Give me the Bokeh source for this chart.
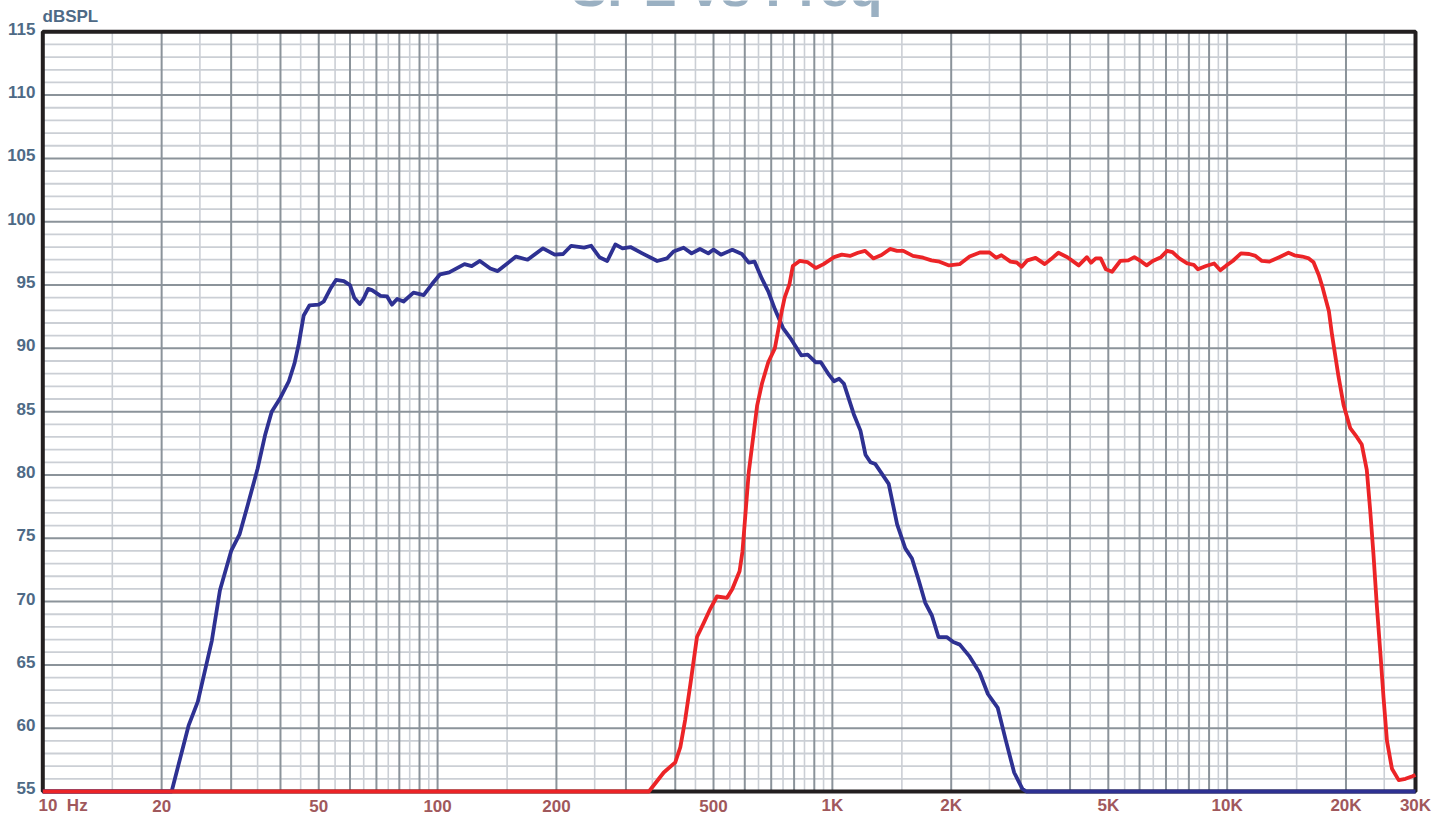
from bokeh.plotting import figure
from bokeh.models import ColumnDataSource, LabelSet, Label, Range1d
from bokeh.core.properties import value
from bokeh.embed import file_html
from bokeh.resources import INLINE

# ---- data ----
blue_freq = [10, 21.2, 23.4, 24.7, 26.8, 28.1, 30, 31.5, 33.1, 35, 36.6, 38, 40, 42, 43.4,
             44.5, 45.8, 47.4, 50, 51.5, 53.5, 55.3, 57.9, 60, 61.5, 63.5, 64.9, 66.7, 68.2,
             71.7, 74.5, 76.6, 79, 82, 86.9, 92.2, 96.9, 101.5, 107, 117, 122, 128, 136, 142,
             158, 169, 185, 198, 208, 218, 235, 245, 257, 269, 282, 294, 308, 330, 360, 381,
             396, 420, 440, 462, 485, 500, 522, 558, 590, 614, 635, 663, 688, 715, 750, 787,
             834, 866, 908, 935, 981, 1010, 1040, 1070, 1133, 1178, 1213, 1249, 1285, 1389,
             1459, 1530, 1591, 1654, 1719, 1787, 1857, 1948, 2024, 2103, 2228, 2360, 2477,
             2624, 2752, 2887, 3030, 3100, 30000]
blue_db = [55, 55.0, 60.2, 62.1, 66.9, 70.9, 74.0, 75.3, 77.7, 80.5, 83.2, 85.0, 86.1, 87.4, 88.8,
           90.35, 92.6, 93.4, 93.45, 93.7, 94.7, 95.4, 95.3, 95.0, 94.0, 93.5, 93.9, 94.7, 94.6,
           94.15, 94.1, 93.45, 93.9, 93.7, 94.4, 94.2, 95.1, 95.85, 96.0, 96.65, 96.5, 96.9, 96.3, 96.1,
           97.25, 97.0, 97.9, 97.4, 97.45, 98.1, 97.95, 98.1, 97.2, 96.9, 98.2, 97.9, 98.0, 97.5, 96.9, 97.1,
           97.65, 97.95, 97.5, 97.85, 97.5, 97.8, 97.4, 97.78, 97.45, 96.77, 96.85, 95.5, 94.5, 93.1, 91.6, 90.7,
           89.45, 89.5, 88.9, 88.9, 87.9, 87.4, 87.6, 87.2, 84.8, 83.5, 81.6, 81.0, 80.86, 79.3,
           76.1, 74.2, 73.4, 71.7, 69.9, 68.9, 67.2, 67.2, 66.8, 66.6, 65.65, 64.4, 62.7,
           61.6, 59.0, 56.5, 55.2, 55, 55]

red_freq = [10, 343, 374, 400, 412, 424, 437, 454, 472, 491, 510, 541, 558, 582, 592, 614, 645,
            663, 688, 715, 743, 757, 779, 794, 826, 866, 908, 950, 1010, 1057, 1108, 1161, 1210,
            1270, 1332, 1400, 1458, 1513, 1600, 1698, 1782, 1868, 1975, 2100, 2227, 2364, 2500,
            2600, 2680, 2826, 2930, 3017, 3119, 3271, 3451, 3580, 3737, 3938, 4208, 4413, 4519,
            4648, 4782, 4930, 5110, 5361, 5619, 5821, 6034, 6254, 6480, 6797, 7046, 7270, 7565,
            7940, 8230, 8430, 8840, 9270, 9610, 9960, 10330, 10840, 11370, 11800, 12250, 12800,
            13550, 14300, 14800, 15500, 16100, 16550, 17060, 17450, 17740, 18100, 18430, 19150,
            19730, 20500, 21300, 21930, 22580, 23020, 23480, 23940, 24420, 24900, 25400, 26150,
            27200, 28300, 29460, 30000]
red_db = [55, 55, 56.5, 57.3, 58.5, 60.7, 63.5, 67.2, 68.3, 69.45, 70.4, 70.3, 71.0, 72.4, 73.96, 80.2, 85.5,
          87.2, 88.9, 90.0, 92.8, 94.0, 95.1, 96.5, 96.9, 96.8, 96.35, 96.65, 97.2, 97.4, 97.3, 97.55, 97.7,
          97.1, 97.37, 97.85, 97.7, 97.7, 97.3, 97.16, 96.95, 96.84, 96.55, 96.65, 97.25, 97.57, 97.58,
          97.15, 97.35, 96.85, 96.78, 96.45, 96.95, 97.15, 96.65, 97.05, 97.55, 97.2, 96.55, 97.2, 96.76,
          97.1, 97.1, 96.24, 96.05, 96.9, 96.95, 97.2, 96.9, 96.55, 96.9, 97.2, 97.7, 97.6, 97.1,
          96.7, 96.6, 96.24, 96.5, 96.7, 96.16, 96.55, 96.9, 97.5, 97.45, 97.3, 96.9, 96.85,
          97.2, 97.55, 97.35, 97.25, 97.1, 96.8, 95.8, 94.8, 93.96, 92.95, 91.1, 87.76,
          85.5, 83.7, 83.0, 82.4, 80.4, 77.3, 73.7, 69.7, 66.1, 62.4, 59.0, 56.8,
          55.9, 56.0, 56.2, 56.3]

x_tick_values = [10, 20, 50, 100, 200, 500, 1000, 2000, 5000, 10000, 20000, 30000]
x_tick_labels = ["10\u00a0\u00a0Hz", "20", "50", "100", "200", "500", "1K", "2K", "5K", "10K", "20K", "30K"]
y_tick_values = [55, 60, 65, 70, 75, 80, 85, 90, 95, 100, 105, 110, 115]
y_tick_labels = [str(v) for v in y_tick_values]

x_min, x_max = 10, 30000
y_min, y_max = 55, 115

grid_major_x = [m * 10 ** k for k in range(1, 4) for m in range(1, 10)] + [10000, 20000]
grid_minor_x = [(m + 0.5) * 10 ** k for k in range(1, 4) for m in range(1, 10)] + [15000, 25000]
grid_major_x = [v for v in grid_major_x if x_min < v < x_max]
grid_major_y = list(range(60, 115, 5))
grid_minor_y = [v for v in range(56, 115) if v % 5]

# ---- layout (the plotting box sits inside a full-canvas frame) ----
W, H = 1452, 820
PX_DEC = 394.8      # pixels per decade
PX_DB = 12.66       # pixels per dB
BOX_L, BOX_R, BOX_T, BOX_B = 42.3, 1415.0, 31.3, 791.0
xr = Range1d(x_min * 10 ** (-BOX_L / PX_DEC), x_max * 10 ** ((W - BOX_R) / PX_DEC))
yr = Range1d(y_min - (H - BOX_B) / PX_DB, y_max + BOX_T / PX_DB)

p = figure(width=W, height=H, x_axis_type="log", x_range=xr, y_range=yr,
           x_axis_location=None, y_axis_location=None, title=None,
           toolbar_location=None, output_backend="svg")
p.min_border = 0
p.outline_line_color = None
p.background_fill_color = "white"
p.border_fill_color = "white"
p.xgrid.visible = False
p.ygrid.visible = False

DARK = "#8b939a"
LIGHT = "#cbcfd5"

# grid lines limited to the plotting box
p.segment(x0=grid_minor_x, x1=grid_minor_x, y0=[y_min] * len(grid_minor_x), y1=[y_max] * len(grid_minor_x),
          line_color=LIGHT, line_width=1.6)
p.segment(x0=[x_min] * len(grid_minor_y), x1=[x_max] * len(grid_minor_y), y0=grid_minor_y, y1=grid_minor_y,
          line_color=LIGHT, line_width=1.8)
p.segment(x0=grid_major_x, x1=grid_major_x, y0=[y_min] * len(grid_major_x), y1=[y_max] * len(grid_major_x),
          line_color=DARK, line_width=2)
p.segment(x0=[x_min] * len(grid_major_y), x1=[x_max] * len(grid_major_y), y0=grid_major_y, y1=grid_major_y,
          line_color=DARK, line_width=2)

# frame of the plotting box
p.quad(left=[x_min], right=[x_max], bottom=[y_min], top=[y_max], fill_color=None,
       line_color="#231f20", line_width=4)

p.line(blue_freq, blue_db, line_color="#2e3192", line_width=3.8, line_join="round")
p.line(red_freq, red_db, line_color="#ec2427", line_width=3.8, line_join="round")

FONT = "Liberation Sans"
YCOL = "#4e6a86"
XCOL = "#a0585c"

ysrc = ColumnDataSource(dict(x=[x_min] * len(y_tick_values), y=y_tick_values, t=y_tick_labels))
p.add_layout(LabelSet(x="x", y="y", text="t", source=ysrc, x_offset=-7.3, y_offset=3,
                      text_align="right", text_baseline="middle", text_font=value(FONT),
                      text_font_style="bold", text_font_size="17px", text_color=YCOL))

xsrc = ColumnDataSource(dict(x=x_tick_values[1:], y=[y_min] * (len(x_tick_values) - 1),
                             t=x_tick_labels[1:]))
p.add_layout(LabelSet(x="x", y="y", text="t", source=xsrc, y_offset=-14.5,
                      text_align="center", text_baseline="middle", text_font=value(FONT),
                      text_font_style="bold", text_font_size="17px", text_color=XCOL))
p.add_layout(Label(x=x_tick_values[0], y=y_min, text=x_tick_labels[0], x_offset=-4.3, y_offset=-14.5,
                   text_align="left", text_baseline="middle", text_font=FONT,
                   text_font_style="bold", text_font_size="17px", text_color=XCOL))

p.add_layout(Label(x=x_min, y=y_max, text="dBSPL", x_offset=-0.3, y_offset=15.5,
                   text_align="left", text_baseline="middle", text_font=FONT,
                   text_font_style="bold", text_font_size="17px", text_color=YCOL))

p.add_layout(Label(x=542, y=y_max + (BOX_T + 13.7) / PX_DB, text="SPL vs Freq",
                   text_align="center", text_baseline="middle", text_font=FONT,
                   text_font_style="bold", text_font_size="54px", text_color="#9ab0c2"))

open("out.html", "w").write(file_html(p, INLINE))
